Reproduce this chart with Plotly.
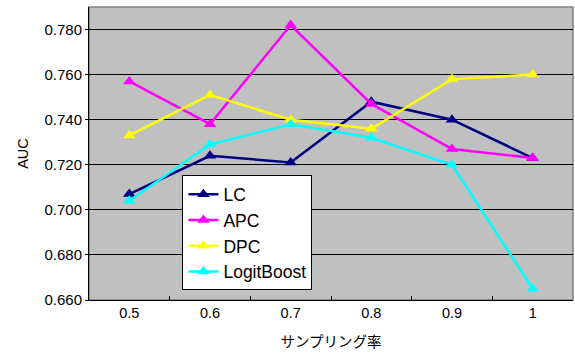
import plotly.graph_objects as go

categories = ["0.5", "0.6", "0.7", "0.8", "0.9", "1"]
lc = [0.707, 0.724, 0.721, 0.748, 0.740, 0.723]
apc = [0.757, 0.738, 0.782, 0.747, 0.727, 0.723]
dpc = [0.733, 0.751, 0.740, 0.736, 0.758, 0.760]
logit = [0.704, 0.729, 0.738, 0.732, 0.720, 0.665]
y_ticks = [0.66, 0.68, 0.70, 0.72, 0.74, 0.76, 0.78]

series = [("LC", lc, "#000080"), ("APC", apc, "#FF00FF"),
          ("DPC", dpc, "#FFFF00"), ("LogitBoost", logit, "#00FFFF")]

fig = go.Figure()
for name, vals, col in series:
    fig.add_trace(go.Scatter(
        x=categories, y=vals, name=name, mode="lines+markers",
        line=dict(color=col, width=2.5),
        marker=dict(symbol="triangle-up", size=11, color=col),
    ))

font = "Liberation Sans, Arial, Noto Sans CJK JP, sans-serif"
fig.update_layout(
    width=575, height=354,
    margin=dict(l=89, r=2, t=7, b=54),
    paper_bgcolor="white", plot_bgcolor="#C0C0C0",
    font=dict(family=font, size=15, color="black"),
    showlegend=True,
    legend=dict(
        x=0.193, y=0.425, xanchor="left", yanchor="top",
        bgcolor="white", bordercolor="black", borderwidth=1,
        font=dict(size=17.5, family=font),
        itemwidth=30,
    ),
    xaxis=dict(
        type="category", range=[-0.5, 5.5], tickson="boundaries", ticks="inside", ticklen=4,
        tickcolor="black", showgrid=False, showline=True, linecolor="black",
        linewidth=1, tickfont=dict(size=14.5),
        title=dict(text="サンプリング率", font=dict(size=14.5, family="Noto Sans CJK JP, sans-serif"), standoff=16),
    ),
    yaxis=dict(
        range=[0.66, 0.79], tickvals=y_ticks, tickformat=".3f",
        showgrid=True, gridcolor="black", gridwidth=1,
        showline=True, linecolor="black", linewidth=1,
        ticks="outside", ticklen=3, tickcolor="black",
        tickfont=dict(size=15), zeroline=False,
        title=dict(text="AUC", font=dict(size=14.5), standoff=12),
    ),
)
fig.add_shape(type="rect", xref="paper", yref="paper", x0=0, x1=1, y0=0, y1=1,
              line=dict(color="#808080", width=1.5), layer="below")
fig.write_html("out.html")
